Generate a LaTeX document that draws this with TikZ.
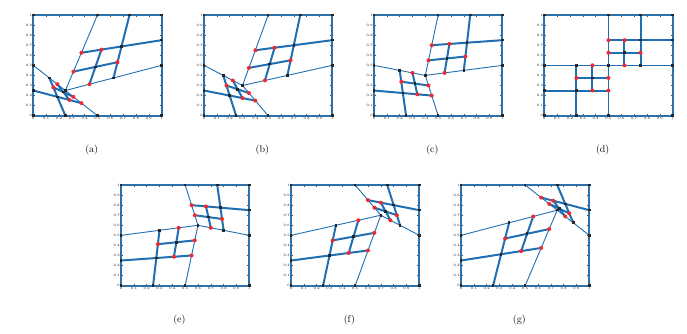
\documentclass[tikz,border=0pt]{standalone}
\usepackage{tikz}
\usetikzlibrary{calc}
\definecolor{mblue}{HTML}{1F6FB2}
\definecolor{mred}{HTML}{F2282D}

\newcommand{\mpos}{0.5}
% point of the lower-left / upper-right patch, from its local (u,v)
\newcommand{\llpt}[3]{\coordinate (#1) at ({0.5*#2*(1-#3)+#2*#3*\mpos},{#2*#3*\mpos+0.5*(1-#2)*#3});}
\newcommand{\trpt}[3]{\coordinate (#1) at ({(1-#2)*(1-#3)*\mpos+#2+0.5*(1-#2)*#3},{(1-#2)*(1-#3)*\mpos+#3+0.5*#2*(1-#3)});}

\newcommand{\meshpanel}[5]{%
  \renewcommand{\mpos}{#3}%
  \begin{scope}[shift={(#1pt,#2pt)},x=128.3pt,y=100.7pt]
    \coordinate (SW) at (0,0); \coordinate (SE) at (1,0);
    \coordinate (NW) at (0,1); \coordinate (NE) at (1,1);
    \coordinate (B) at (0.5,0); \coordinate (L) at (0,0.5);
    \coordinate (R) at (1,0.5); \coordinate (T) at (0.5,1);
    \coordinate (P) at (#3,#3);
    \llpt{a1}{0.5}{0}\llpt{a2}{0.5}{1}\llpt{a3}{0}{0.5}\llpt{a4}{1}{0.5}\llpt{a5}{0.5}{0.5}
    \llpt{b1}{0.75}{0.5}\llpt{b2}{0.75}{1}\llpt{b3}{0.5}{0.75}\llpt{b4}{1}{0.75}\llpt{b5}{0.75}{0.75}
    \trpt{c1}{0.5}{0}\trpt{c2}{0.5}{1}\trpt{c3}{0}{0.5}\trpt{c4}{1}{0.5}\trpt{c5}{0.5}{0.5}
    \trpt{d1}{0.25}{0}\trpt{d2}{0.25}{0.5}\trpt{d3}{0}{0.25}\trpt{d4}{0.5}{0.25}\trpt{d5}{0.25}{0.25}
    % axes
    \foreach \t in {0.1,0.2,0.3,0.4,0.5,0.6,0.7,0.8,0.9}
      \draw[axtick] (\t,0) -- ++(0,0.02) (\t,1) -- ++(0,-0.02) (0,\t) -- ++(0.015,0) (1,\t) -- ++(-0.015,0);
    \foreach \t in {0,0.1,0.2,0.3,0.4,0.5,0.6,0.7,0.8,0.9,1}{
      \node[ticklbl,below=1.2pt] at (\t,0) {\t};
      \node[ticklbl,left=1.2pt] at (0,\t) {\t};}
    % mesh
    \draw[coarse] (L) -- (P) -- (R) (T) -- (P) -- (B);
    \draw[fine] (a1) -- (a2) (a3) -- (a4) (b1) -- (b2) (b3) -- (b4)
                (c1) -- (c2) (c3) -- (c4) (d1) -- (d2) (d3) -- (d4);
    \draw[boxline] (SW) -- (SE) -- (NE) -- (NW) -- cycle;
    \foreach \n in {SW,SE,NW,NE,B,L,R,T,P,a1,a2,a3,a5,b5,c1,c2,c4,c5,d5}
      \node[knot] at (\n) {};
    \foreach \n in {a4,b1,b2,b3,b4,c3,d1,d2,d3,d4}
      \node[hang] at (\n) {};
    \node[subcap] (#5) at (0.455,-0.34) {#4};
  \end{scope}}

\begin{document}
\begin{tikzpicture}[
    boxline/.style={draw=mblue!85!gray,line width=1.8pt},
    coarse/.style={draw=mblue,line width=0.9pt},
    fine/.style={draw=mblue,line width=2pt},
    axtick/.style={draw=black!70,line width=0.4pt},
    ticklbl/.style={font=\fontsize{3.4}{3.4}\selectfont,text=black,inner sep=0pt},
    knot/.style={fill=black!85,minimum size=2.6pt,inner sep=0pt},
    hang/.style={circle,fill=mred,minimum size=4pt,inner sep=0pt},
    subcap/.style={font=\fontsize{10}{12}\selectfont,inner sep=0pt}]
  \useasboundingbox (0,0) rectangle (687pt,333pt);
  \meshpanel{33.3}{217.3}{0.25}{(a)}{capa}
  \meshpanel{204}{217.3}{0.3}{(b)}{capb}
  \meshpanel{374}{217.3}{0.4}{(c)}{capc}
  \meshpanel{544.3}{217.3}{0.5}{(d)}{capd}
  \meshpanel{121}{47.3}{0.6}{(e)}{cape}
  \meshpanel{291}{47.3}{0.7}{(f)}{capf}
  \meshpanel{461}{47.3}{0.75}{(g)}{capg}
\end{tikzpicture}
\end{document}
